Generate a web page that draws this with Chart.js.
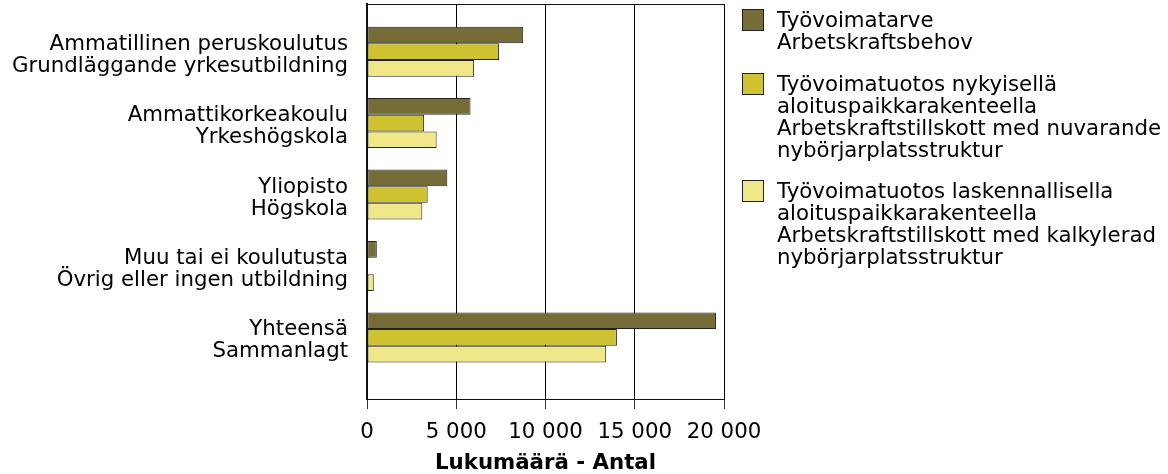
<!DOCTYPE html>
<html>
<head>
<meta charset="utf-8">
<script src="https://cdn.jsdelivr.net/npm/chart.js@4"></script>
<style>
  html, body { margin: 0; padding: 0; background: #fff; }
  #wrap { position: relative; width: 1168px; height: 474px; }
  #legend { position: absolute; left: 742px; top: 9px; font-family: "DejaVu Sans", Verdana, sans-serif; font-size: 21.3px; line-height: 22px; color: #000; }
  .item { position: relative; padding-left: 35px; margin-bottom: 19.5px; }
  .box { position: absolute; left: 0; top: 0; width: 20px; height: 20px; border: 1px solid #222; }
</style>
</head>
<body>
<div id="wrap">
  <canvas id="c" width="1168" height="474"></canvas>
  <div id="legend"></div>
</div>
<script>
const categories = [
  ["Ammatillinen peruskoulutus", "Grundläggande yrkesutbildning"],
  ["Ammattikorkeakoulu", "Yrkeshögskola"],
  ["Yliopisto", "Högskola"],
  ["Muu tai ei koulutusta", "Övrig eller ingen utbildning"],
  ["Yhteensä", "Sammanlagt"]
];
const seriesNames = [
  ["Työvoimatarve", "Arbetskraftsbehov"],
  ["Työvoimatuotos nykyisellä", "aloituspaikkarakenteella", "Arbetskraftstillskott med nuvarande", "nybörjarplatsstruktur"],
  ["Työvoimatuotos laskennallisella", "aloituspaikkarakenteella", "Arbetskraftstillskott med kalkylerad", "nybörjarplatsstruktur"]
];
const demand = [8750, 5800, 4500, 550, 19550];
const supplyCurrent = [7400, 3200, 3400, null, 14000];
const supplyCalculated = [6000, 3900, 3100, 380, 13400];
const xTicks = [0, 5000, 10000, 15000, 20000];
const axisTitle = "Lukumäärä - Antal";
const colors = ["#766c38", "#cec230", "#f0e888"];

const Y_MIN = -0.667, Y_MAX = 4.862;
const FONT = '"DejaVu Sans", Verdana, sans-serif';

const seriesValues = [demand, supplyCurrent, supplyCalculated];
const datasets = seriesValues.map((vals, s) => ({
  label: seriesNames[s].join(" "),
  data: vals.map((v, i) => ({ x: v, y: i })),
  xAxisID: "x",
  yAxisID: "y",
  backgroundColor: colors[s],
  borderColor: "#222",
  borderWidth: 1,
  borderSkipped: false,
  categoryPercentage: 0.7,
  barPercentage: 1.0
}));

function fmt(v) { return String(v).replace(/\B(?=(\d{3})+(?!\d))/g, " "); }

new Chart(document.getElementById("c"), {
  type: "bar",
  data: { datasets },
  options: {
    indexAxis: "y",
    responsive: false,
    animation: false,
    events: [],
    layout: { padding: { top: 4, right: 444, bottom: 0, left: 0 } },
    plugins: { legend: { display: false }, tooltip: { enabled: false } },
    scales: {
      x: {
        type: "linear",
        position: "bottom",
        min: 0, max: 20000,
        afterBuildTicks: (axis) => { axis.ticks = xTicks.map(v => ({ value: v })); },
        afterFit: (axis) => { axis.height = 75; },
        ticks: { callback: (v) => fmt(v), font: { family: FONT, size: 21.3 }, color: "#000", padding: 11, maxRotation: 0 },
        grid: { color: "#000", lineWidth: 1, tickLength: 10, tickColor: "#333", drawTicks: true },
        border: { display: true, color: "#111", width: 1 },
        title: { display: true, text: axisTitle, font: { family: FONT, size: 21.3, weight: "bold" }, color: "#000", padding: { top: 0, bottom: -2 } }
      },
      xTop: {
        type: "linear",
        position: "top",
        min: 0, max: 20000,
        afterFit: (axis) => { axis.height = 0; axis.paddingLeft = 0; axis.paddingRight = 0; },
        ticks: { display: false },
        grid: { display: false, drawTicks: false },
        border: { display: true, color: "#111", width: 1 }
      },
      y: {
        type: "linear",
        reverse: true,
        offset: false,
        min: Y_MIN, max: Y_MAX,
        afterBuildTicks: (axis) => { axis.ticks = categories.map((c, i) => ({ value: i })); },
        afterFit: (axis) => { axis.width = 367; axis.paddingTop = 0; axis.paddingBottom = 0; },
        ticks: {
          callback: (v) => (Number.isInteger(v) && categories[v]) ? categories[v] : "",
          font: { family: FONT, size: 21.3, lineHeight: 1.035 },
          color: "#000",
          padding: 19,
          labelOffset: 3.5,
          autoSkip: false
        },
        grid: { display: false, drawTicks: false, offset: false },
        border: { display: true, color: "#111", width: 2 }
      }
    }
  }
});

const legend = document.getElementById("legend");
seriesNames.forEach((lines, s) => {
  const item = document.createElement("div");
  item.className = "item";
  const box = document.createElement("span");
  box.className = "box";
  box.style.background = colors[s];
  item.appendChild(box);
  lines.forEach(t => {
    const d = document.createElement("div");
    d.textContent = t;
    item.appendChild(d);
  });
  legend.appendChild(item);
});
</script>
</body>
</html>
